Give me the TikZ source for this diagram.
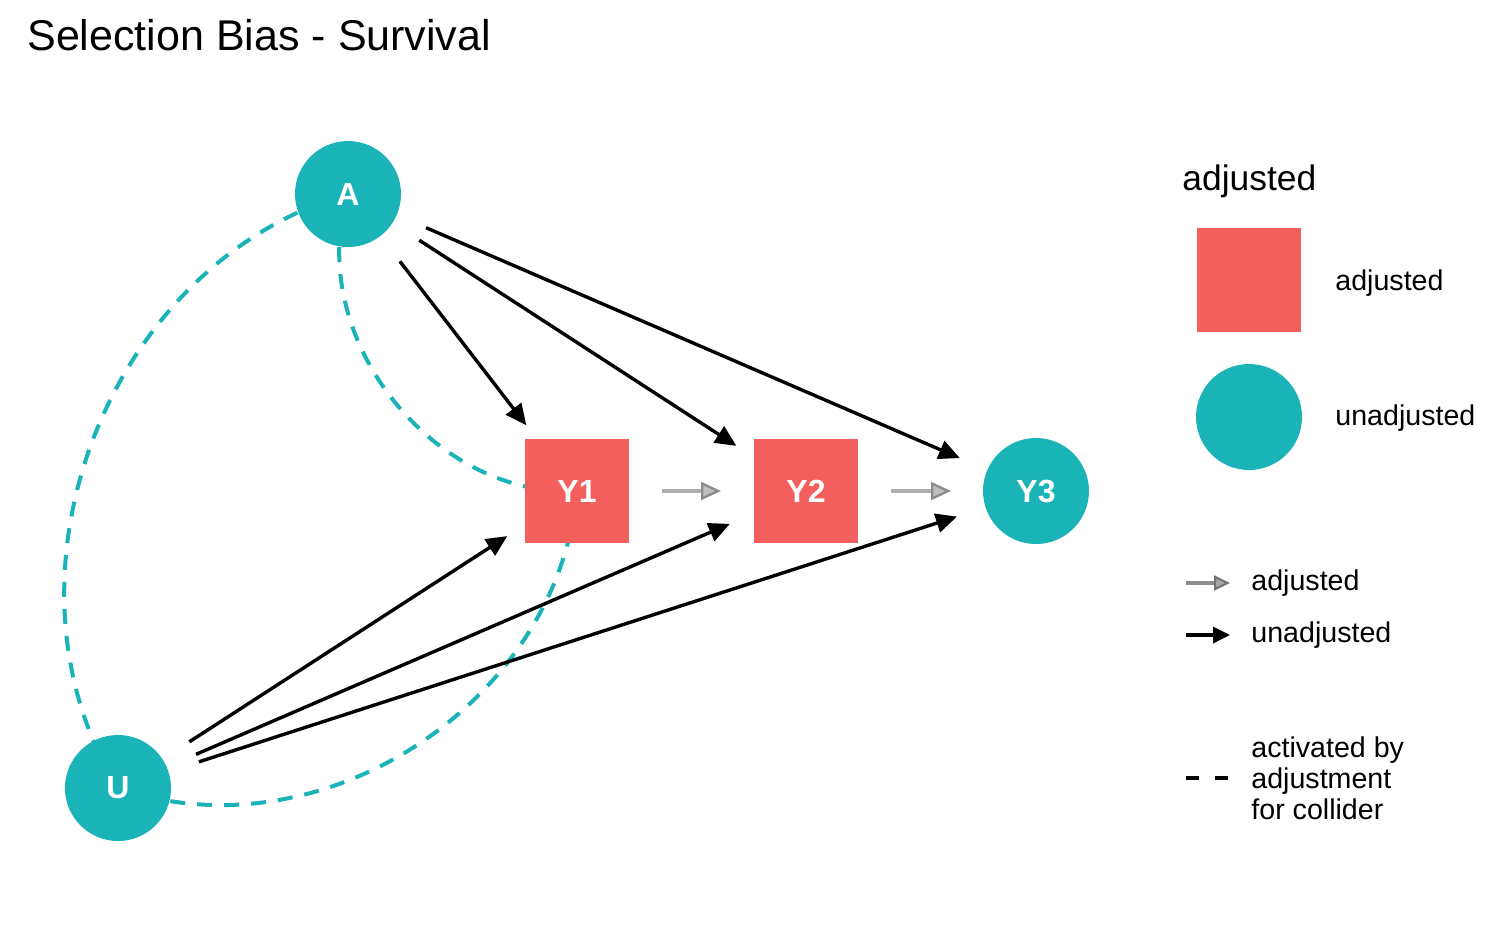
\documentclass[tikz,border=0pt]{standalone}
\usepackage{fontspec}
\setmainfont{Liberation Sans}
\usetikzlibrary{arrows.meta,backgrounds}
\definecolor{tealnode}{RGB}{26,179,184}
\definecolor{rednode}{RGB}{242,95,92}
\begin{document}
\begin{tikzpicture}[x=0.5pt,y=-0.5pt,
  unadj/.style={circle,fill=tealnode,minimum size=53pt,inner sep=0pt,text=white,font=\fontsize{16}{16}\selectfont\bfseries},
  adj/.style={rectangle,fill=rednode,minimum size=52pt,inner sep=0pt,text=white,font=\fontsize{16}{16}\selectfont\bfseries},
  edge/.style={line width=1.7pt,-{Triangle[length=10.5pt,width=9.5pt]},shorten >=41.5pt,shorten <=42.5pt},
  adjedge/.style={line width=1.7pt,draw=black!32,-{Triangle[length=10pt,width=9pt,fill=black!25,color=black!45,line width=1.2pt]},shorten >=42.5pt,shorten <=42.5pt},
  legedge/.style={line width=1.7pt,-{Triangle[length=8.5pt,width=8pt]}},
  collider/.style={tealnode,line width=2pt,dash pattern=on 7.5pt off 6pt},
  lab/.style={font=\fontsize{14.3}{15.5}\selectfont,anchor=west,inner sep=0pt,align=left}
]
\useasboundingbox (0,0) rectangle (1512,934);
\node[anchor=west,inner sep=0pt,font=\fontsize{21.5}{22}\selectfont] (title) at (27,35) {Selection Bias - Survival};

\node[unadj] (A) at (348,194) {A};
\node[unadj] (U) at (118,788) {U};
\node[adj] (Y1) at (577,491) {Y1};
\node[adj] (Y2) at (806,491) {Y2};
\node[unadj] (Y3) at (1036,491) {Y3};

\begin{scope}[on background layer]
\draw[collider] (A.center) to[bend right=53] (U.center);
\draw[collider] (A.center) to[bend right=55] (Y1.center);
\draw[collider] (U.center) to[bend right=52] (Y1.center);
\end{scope}

\draw[edge] (A.center) -- (Y1.center);
\draw[edge] (A.center) -- (Y2.center);
\draw[edge] (A.center) -- (Y3.center);
\draw[edge] (U.center) -- (Y1.center);
\draw[edge] (U.center) -- (Y2.center);
\draw[edge] (U.center) -- (Y3.center);
\draw[adjedge] (Y1.center) -- (Y2.center);
\draw[adjedge] (Y2.center) -- (Y3.center);

% legend
\node[anchor=west,inner sep=0pt,font=\fontsize{17.7}{18}\selectfont] (legtitle) at (1182,181) {adjusted};
\node[adj] (legadj) at (1249,280) {};
\node[lab] (legadjlab) at (1335,283) {adjusted};
\node[unadj] (legunadj) at (1249,417) {};
\node[lab] (legunadjlab) at (1335,418) {unadjusted};

\coordinate (la1) at (1186,583);
\coordinate (la2) at (1230,583);
\draw[line width=1.7pt,draw=black!45,-{Triangle[length=8pt,width=7.5pt,fill=black!35,color=black!55,line width=1pt]}] (la1) -- (la2);
\node[lab] (lalab) at (1251,583) {adjusted};
\coordinate (lu1) at (1186,635);
\coordinate (lu2) at (1230,635);
\draw[legedge] (lu1) -- (lu2);
\node[lab] (lulab) at (1251,635) {unadjusted};
\coordinate (ld1) at (1186,778);
\coordinate (ld2) at (1228,778);
\draw[line width=1.7pt,dash pattern=on 6.5pt off 8pt] (ld1) -- (ld2);
\node[lab] (ldlab) at (1251,778) {activated by\\adjustment\\for collider};
\end{tikzpicture}
\end{document}
